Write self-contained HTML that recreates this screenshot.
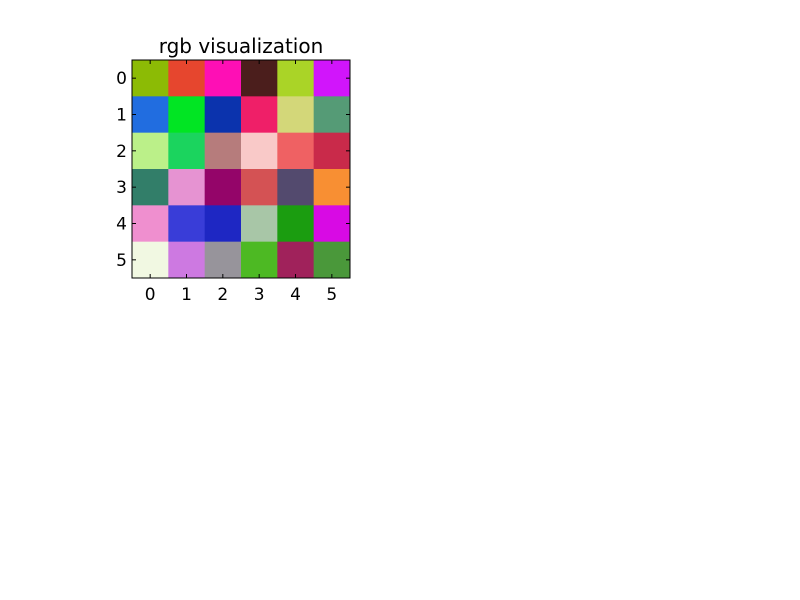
<!DOCTYPE html>
<html><head><meta charset="utf-8"><style>
body{margin:0;background:#fff;}
svg{display:block;font-family:"DejaVu Sans","Liberation Sans",sans-serif;}
</style></head><body>
<svg id="chart" width="800" height="600">
<rect width="800" height="600" fill="#fff"/>
<text x="241" y="53" font-size="20" text-anchor="middle" fill="#000">rgb visualization</text>
<g id="cells"></g>
<g id="axes"></g>
</svg>
<script>
const rowLabels = ["0","1","2","3","4","5"];
const colLabels = ["0","1","2","3","4","5"];
const colors = [
 ["#8cbb05","#e6462e","#fe0fb5","#4b1e1c","#aad427","#d115fb"],
 ["#216de0","#01e523","#0b33ad","#ef1f68","#d3d779","#559b76"],
 ["#bbf089","#1bd45e","#b67c7c","#f9c9c8","#ef6163","#c92a4a"],
 ["#327e69","#e693d2","#940569","#d45254","#534a6e","#f88f33"],
 ["#ef8fcf","#393dd8","#1e27c3","#a8c6a7","#1b9d10","#d80ae4"],
 ["#f1f8e2","#cd79e1","#97949b","#4db923","#a0225b","#4a983a"]
];
const NS="http://www.w3.org/2000/svg";
const L=132,T=60,W=218,H=218;
const nC=colLabels.length,nR=rowLabels.length;
const cw=W/nC,ch=H/nR;
const xs=i=>L+i*cw, ys=j=>T+j*ch;
const cells=document.getElementById('cells');
const axes=document.getElementById('axes');
function mk(tag,attrs,parent){const e=document.createElementNS(NS,tag);for(const k in attrs)e.setAttribute(k,attrs[k]);parent.appendChild(e);return e;}
colors.forEach((row,j)=>row.forEach((c,i)=>{
 const r=mk('rect',{x:xs(i),y:ys(j),width:cw+0.4,height:ch+0.4,fill:c},cells);
 
 
}));
const frame=mk('rect',{x:L,y:T,width:W,height:H,fill:'none',stroke:'#000','stroke-width':1},axes);


colLabels.forEach((lab,i)=>{
 const x=xs(i)+cw/2;
 mk('line',{x1:x,y1:T+H,x2:x,y2:T+H-4,stroke:'#000'},axes);
 mk('line',{x1:x,y1:T,x2:x,y2:T+4,stroke:'#000'},axes);
 const t=mk('text',{x:x,y:T+H+22,'font-size':17,'text-anchor':'middle',fill:'#000'},axes);
 t.textContent=lab;
 
 
});
rowLabels.forEach((lab,j)=>{
 const y=ys(j)+ch/2;
 mk('line',{x1:L,y1:y,x2:L+4,y2:y,stroke:'#000'},axes);
 mk('line',{x1:L+W,y1:y,x2:L+W-4,y2:y,stroke:'#000'},axes);
 const t=mk('text',{x:L-5,y:y+6,'font-size':17,'text-anchor':'end',fill:'#000'},axes);
 t.textContent=lab;
 
 
});
</script>
</body></html>
